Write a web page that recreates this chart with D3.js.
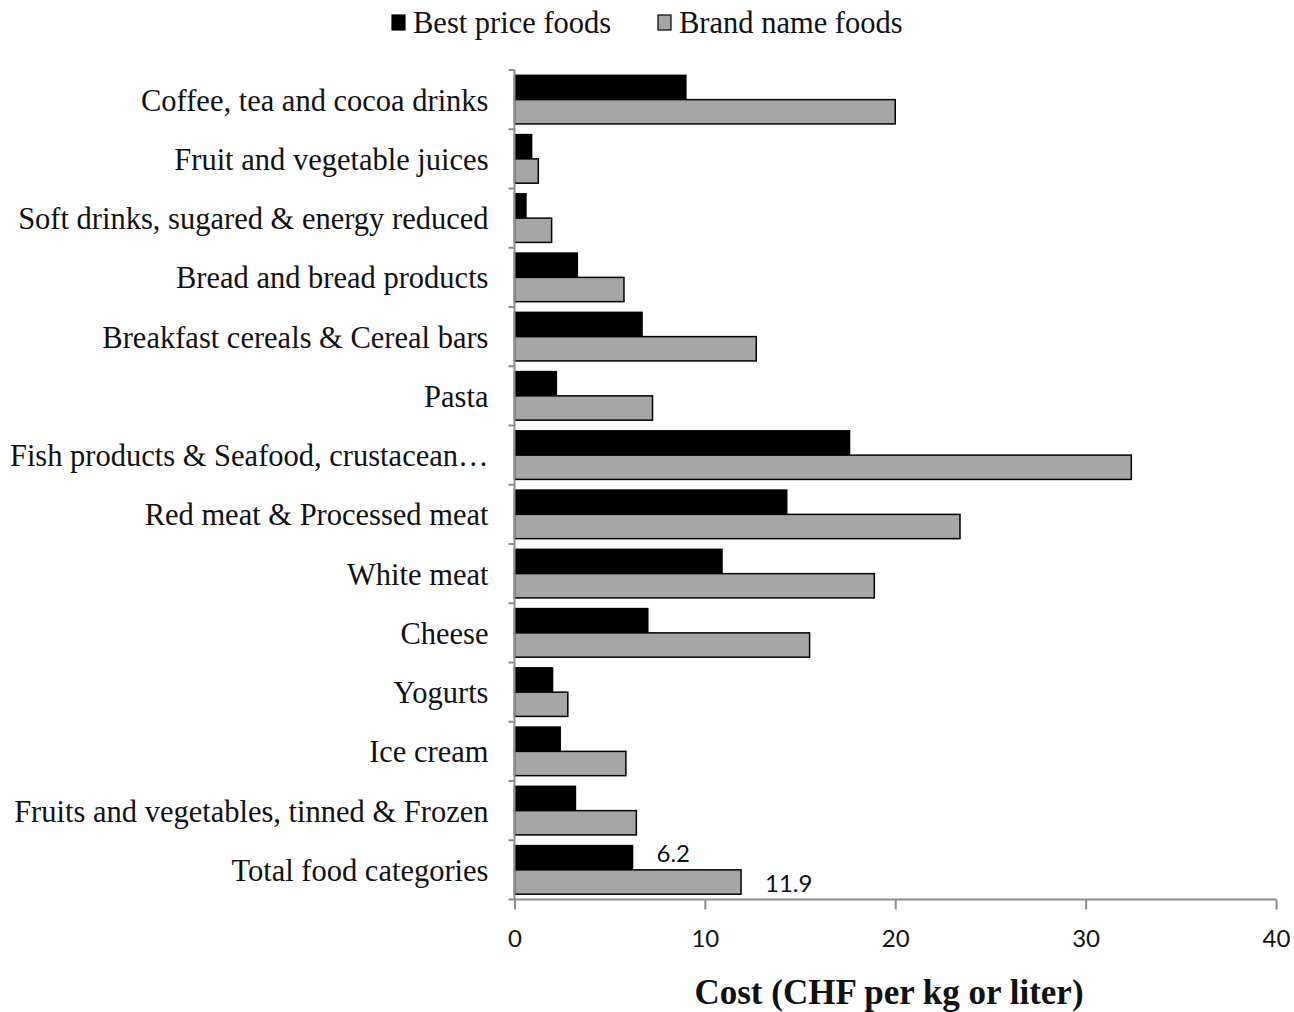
<!DOCTYPE html>
<html><head><meta charset="utf-8">
<script src="https://cdn.jsdelivr.net/npm/d3@7"></script>
<style>body{margin:0;background:#fff}</style>
</head><body>
<svg id="chart" width="1294" height="1012"></svg>
<script>
const categories = ["Coffee, tea and cocoa drinks","Fruit and vegetable juices","Soft drinks, sugared & energy reduced","Bread and bread products","Breakfast cereals & Cereal bars","Pasta","Fish products & Seafood, crustacean\u2026","Red meat & Processed meat","White meat","Cheese","Yogurts","Ice cream","Fruits and vegetables, tinned & Frozen","Total food categories"];
const bestPrice = [9.0,0.9,0.6,3.3,6.7,2.2,17.6,14.3,10.9,7.0,2.0,2.4,3.2,6.2];
const brandName = [20.0,1.25,1.95,5.75,12.7,7.25,32.4,23.4,18.9,15.5,2.8,5.85,6.4,11.9];
const seriesNames = ["Best price foods","Brand name foods"];
const seriesColors = ["#000000","#a6a6a6"];
const xTicks = [0,10,20,30,40];
const dataLabels = [{cat:"Total food categories", series:0, text:"6.2"},{cat:"Total food categories", series:1, text:"11.9"}];

(function(){
const svg = d3.select("#chart");
const mLeft = 514.5, mRight = 1276, mTop = 70, mBottom = 899.5;
const serif = "'Liberation Serif','Times New Roman',serif";
const sans = "Lato,'Open Sans',sans-serif";
const x = d3.scaleLinear().domain([0,40]).range([mLeft,mRight]);
const y = d3.scaleBand().domain(categories).range([mTop,mBottom]).paddingInner(0.18).paddingOuter(0.09);
const ySub = d3.scaleBand().domain([0,1]).range([0,y.bandwidth()]);
const axisColor = "#8c8c8c";

const rows = categories.map((c,i)=>({c, vals:[bestPrice[i],brandName[i]]}));
const g = svg.append("g");
rows.forEach(r=>{
  r.vals.forEach((v,s)=>{
    g.append("rect")
      .attr("x", x(0))
      .attr("y", y(r.c)+ySub(s))
      .attr("width", x(v)-x(0))
      .attr("height", ySub.bandwidth())
      .attr("fill", seriesColors[s])
      .attr("stroke", "#000")
      .attr("stroke-width", 1.5);
  });
});

const yLine = svg.append("g");
yLine.append("line").attr("x1",mLeft).attr("x2",mLeft).attr("y1",mTop).attr("y2",mBottom).attr("stroke",axisColor).attr("stroke-width",2);
const step = (mBottom-mTop)/categories.length;
d3.range(categories.length+1).forEach(i=>{
  yLine.append("line").attr("x1",mLeft-6).attr("x2",mLeft).attr("y1",mTop+i*step).attr("y2",mTop+i*step).attr("stroke",axisColor).attr("stroke-width",2);
});
svg.append("g").selectAll("text").data(categories).join("text")
  .attr("x", mLeft-26).attr("y", d=>y(d)+y.bandwidth()/2)
  .attr("dy","0.36em").attr("text-anchor","end")
  .attr("font-family",serif)
  .attr("font-size",30.5).attr("fill","#111").text(d=>d);

const xAxis = d3.axisBottom(x).tickValues(xTicks).tickSize(10).tickPadding(20).tickFormat(d3.format("d"));
const xg = svg.append("g").attr("transform",`translate(0,${mBottom})`).call(xAxis);
xg.select(".domain").attr("stroke",axisColor).attr("stroke-width",2).attr("d",`M${mLeft},0H${mRight}`);
xg.selectAll(".tick line").attr("stroke",axisColor).attr("stroke-width",2);
xg.selectAll(".tick text").attr("font-family",sans).attr("font-size",24).attr("fill","#111");

svg.append("text").attr("x",889).attr("y",1004).attr("text-anchor","middle")
  .attr("font-family",serif).attr("font-weight","bold")
  .attr("font-size",35).attr("fill","#111").text("Cost (CHF per kg or liter)");

dataLabels.forEach(dl=>{
  const i = categories.indexOf(dl.cat);
  const v = [bestPrice,brandName][dl.series][i];
  svg.append("text").attr("x", x(v)+24).attr("y", y(dl.cat)+ySub(dl.series)+ySub.bandwidth()/2 - (dl.series===0?4:-2))
    .attr("dy","0.35em").attr("font-family",sans).attr("font-size",24).attr("fill","#111").text(dl.text);
});

const leg = svg.append("g");
const legX = [392, 658];
seriesNames.forEach((n,i)=>{
  leg.append("rect").attr("x",legX[i]).attr("y",15).attr("width",13).attr("height",15)
    .attr("fill",seriesColors[i]).attr("stroke","#000").attr("stroke-width",1.2);
  leg.append("text").attr("x",legX[i]+21).attr("y",22).attr("dy","0.36em")
    .attr("font-family",serif).attr("font-size",30.5).attr("fill","#111").text(n);
});
})();
</script>
</body></html>
